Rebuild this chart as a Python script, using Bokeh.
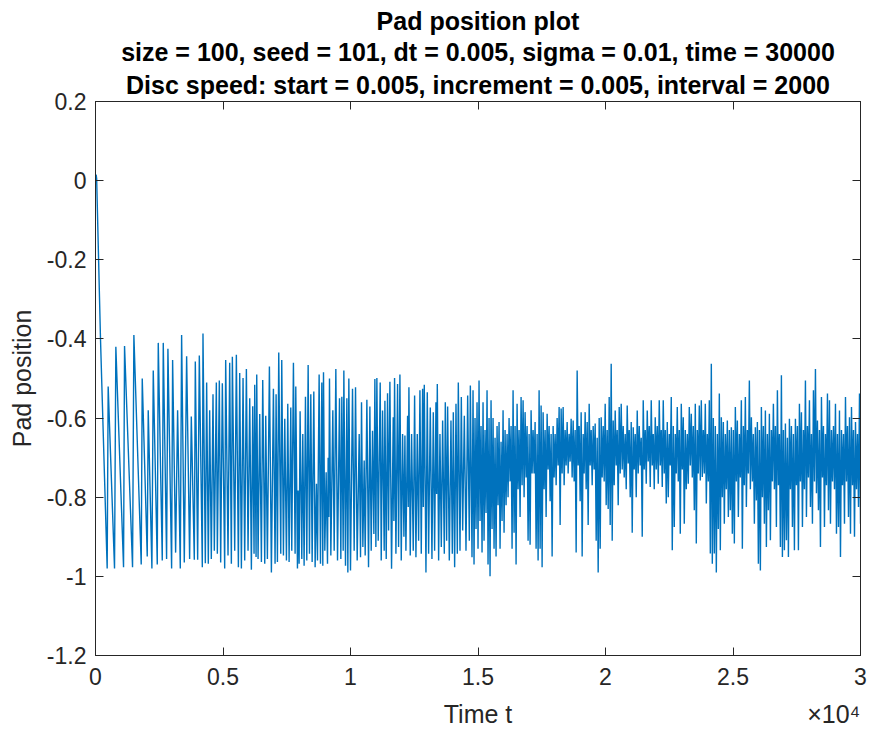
import numpy as np
from bokeh.plotting import figure
from bokeh.models import Range1d, LinearAxis, FixedTicker, Title
from bokeh.embed import file_html
from bokeh.resources import INLINE

title_lines = [
    "Pad position plot",
    "size = 100, seed = 101, dt = 0.005, sigma = 0.01, time = 30000",
    "Disc speed: start = 0.005, increment = 0.005, interval = 2000",
]
x_label = "Time t"
y_label = "Pad position"
x_tick_values = [0, 5000, 10000, 15000, 20000, 25000, 30000]
x_tick_labels = ["0", "0.5", "1", "1.5", "2", "2.5", "3"]
y_tick_values = [-1.2, -1.0, -0.8, -0.6, -0.4, -0.2, 0.0, 0.2]
y_tick_labels = ["-1.2", "-1", "-0.8", "-0.6", "-0.4", "-0.2", "0", "0.2"]
x_multiplier = "×10⁴"

# stick-slip part: time / position at each turning point
t_saw = [0, 25, 45, 196, 458, 497, 746, 798, 1100, 1139, 1453, 1505, 1793, 1833, 2029, 2068,
         2212, 2265, 2422, 2461, 2618, 2657, 2788, 2840, 2985, 3024, 3142, 3220, 3325, 3377,
         3482, 3574, 3691, 3757, 3875, 3914, 4006, 4071, 4189, 4215, 4307, 4359, 4424, 4477,
         4542, 4608, 4660, 4739, 4778, 4856, 4909, 4974,
         5066, 5105, 5197, 5262, 5328, 5367, 5459, 5524, 5603, 5655, 5721, 5786, 5851, 5917,
         5982, 6048, 6113, 6166, 6218, 6244, 6297, 6323, 6375, 6440, 6506, 6558, 6637, 6676,
         6741, 6820, 6898, 6977, 7042, 7082, 7134, 7186, 7265, 7304, 7370, 7422, 7488, 7540,
         7592, 7658, 7697, 7762, 7828, 7854, 7920, 7946, 7985, 8024, 8090, 8129, 8181, 8234,
         8286, 8339, 8391, 8443, 8496, 8561, 8613, 8666, 8705, 8770, 8823, 8875, 8914, 8941,
         8993, 9045, 9098, 9124, 9150, 9176, 9229, 9307, 9360, 9425, 9491, 9569, 9621, 9660,
         9713, 9739, 9804, 9857, 9896, 9935,
         10000, 10079, 10144, 10197, 10262, 10341, 10393, 10432, 10485, 10537, 10576, 10642,
         10707, 10760, 10812, 10864, 10917, 10956, 10995, 11034, 11087, 11165, 11205, 11257,
         11322, 11349, 11401, 11453, 11493, 11545, 11610, 11676, 11702, 11728, 11781, 11846,
         11885, 11938, 11990, 12043, 12095, 12134, 12173, 12239, 12265, 12291, 12343, 12396,
         12461, 12514, 12566, 12618, 12671, 12723, 12775, 12828, 12854, 12893, 12959, 13011,
         13063, 13129, 13194, 13247, 13299, 13351, 13377, 13404, 13456, 13508, 13561, 13613,
         13679, 13718, 13770, 13809, 13875, 13940, 13993, 14032, 14084, 14137, 14189, 14228,
         14294, 14346, 14399, 14464, 14529, 14595, 14660, 14700, 14765]
y_saw = [0.0, 0.015, 0.005, -0.40, -0.98, -0.52, -0.98, -0.42, -0.977, -0.418, -0.977, -0.39,
         -0.97, -0.50, -0.95, -0.58, -0.98, -0.48, -0.97, -0.41, -0.96, -0.41, -0.956, -0.425,
         -0.98, -0.453, -0.94, -0.58, -0.98, -0.39, -0.965, -0.444, -0.956, -0.596, -0.958,
         -0.457, -0.958, -0.442, -0.977, -0.386, -0.967, -0.51, -0.968, -0.58, -0.956, -0.54,
         -0.935, -0.51, -0.943, -0.505, -0.965, -0.512,
         -0.98, -0.453, -0.947, -0.46, -0.968, -0.445, -0.935, -0.44, -0.977, -0.486, -0.98,
         -0.499, -0.96, -0.476, -0.935, -0.55, -0.983, -0.57, -0.943, -0.516, -0.951, -0.49,
         -0.956, -0.59, -0.964, -0.504, -0.968, -0.594, -0.956, -0.47, -0.99, -0.526, -0.968,
         -0.54, -0.964, -0.434, -0.943, -0.453, -0.947, -0.602, -0.96, -0.564, -0.964, -0.573,
         -0.935, -0.46, -0.943, -0.52, -0.98, -0.783, -0.968, -0.583, -0.956, -0.64, -0.973,
         -0.546, -0.96, -0.466, -0.943, -0.54, -0.964, -0.533, -0.977, -0.766, -0.96, -0.49,
         -0.968, -0.51, -0.973, -0.484, -0.935, -0.737, -0.968, -0.70, -0.85, -0.5, -0.947,
         -0.58, -0.935, -0.476, -0.96, -0.55, -0.956, -0.546, -0.935, -0.48, -0.973, -0.55,
         -0.99, -0.5,
         -0.985, -0.526, -0.935, -0.522, -0.96, -0.64, -0.952, -0.56, -0.926, -0.707, -0.947,
         -0.554, -0.977, -0.571, -0.935, -0.632, -0.893, -0.501, -0.926, -0.499, -0.91, -0.51,
         -0.96, -0.581, -0.935, -0.556, -0.956, -0.537, -0.884, -0.508, -0.981, -0.598, -0.86,
         -0.499, -0.943, -0.514, -0.926, -0.49, -0.96, -0.64, -0.90, -0.644, -0.935, -0.594,
         -0.825, -0.522, -0.947, -0.64, -0.935, -0.543, -0.952, -0.64, -0.91, -0.53, -0.943,
         -0.526, -0.825, -0.516, -0.99, -0.535, -0.943, -0.573, -0.956, -0.585, -0.935, -0.56,
         -0.792, -0.514, -0.96, -0.64, -0.926, -0.606, -0.943, -0.56, -0.91, -0.571, -0.96,
         -0.606, -0.943, -0.585, -0.977, -0.564, -0.943, -0.51, -0.935, -0.547, -0.884, -0.594,
         -0.935, -0.543, -0.91, -0.518, -0.952]

# dense noisy part, read column by column (about one value per pixel)
t_dense_start = 14805
t_dense_end = 30000
y_dense = [
    -0.53, -0.97, -0.60, -0.88, -0.56, -0.93, -0.505, -0.86, -0.62, -0.94,
    -0.56, -0.91, -0.63, -0.84, -0.53, -0.97, -0.60, -1.0, -0.555, -0.88,
    -0.60, -0.93, -0.65, -0.95, -0.62, -0.82, -0.61, -0.93, -0.66, -0.86,
    -0.58, -0.89, -0.63, -0.82, -0.64, -0.80, -0.60, -0.76, -0.62, -0.93,
    -0.53, -0.89, -0.62, -0.97, -0.564, -0.78, -0.63, -0.85, -0.547, -0.77,
    -0.555, -0.80, -0.585, -0.75, -0.62, -0.91, -0.64, -0.92, -0.58, -0.74,
    -0.63, -0.74, -0.61, -0.93, -0.64, -0.96, -0.53, -0.93, -0.568, -0.977,
    -0.585, -0.78, -0.63, -0.85, -0.589, -0.73, -0.62, -0.81, -0.64, -0.95,
    -0.62, -0.75, -0.64, -0.77, -0.60, -0.72, -0.572, -0.87, -0.576, -0.74,
    -0.572, -0.77, -0.63, -0.72, -0.61, -0.74, -0.64, -0.71, -0.602, -0.75,
    -0.606, -0.76, -0.63, -0.94, -0.48, -0.72, -0.62, -0.81, -0.585, -0.95,
    -0.64, -0.74, -0.585, -0.78, -0.61, -0.87, -0.564, -0.72, -0.63, -0.77,
    -0.62, -0.73, -0.614, -0.91, -0.65, -0.99, -0.60, -0.93, -0.598, -0.75,
    -0.62, -0.76, -0.564, -0.82, -0.63, -0.83, -0.547, -0.87, -0.463, -0.91,
    -0.606, -0.77, -0.581, -0.72, -0.63, -0.82, -0.572, -0.74, -0.564, -0.73,
    -0.62, -0.75, -0.64, -0.78, -0.568, -0.715, -0.63, -0.80, -0.61, -0.89,
    -0.623, -0.73, -0.64, -0.80, -0.581, -0.74, -0.62, -0.72, -0.65, -0.90,
    -0.555, -0.73, -0.63, -0.766, -0.581, -0.71, -0.62, -0.774, -0.555, -0.72,
    -0.64, -0.78, -0.598, -0.73, -0.62, -0.766, -0.555, -0.72, -0.63, -0.774,
    -0.555, -0.74, -0.63, -0.816, -0.61, -0.80, -0.64, -0.72, -0.547, -0.934,
    -0.62, -0.875, -0.64, -0.74, -0.572, -0.76, -0.63, -0.892, -0.564, -0.73,
    -0.598, -0.867, -0.63, -0.78, -0.64, -0.766, -0.572, -0.72, -0.589, -0.75,
    -0.62, -0.833, -0.564, -0.917, -0.63, -0.74, -0.568, -0.758, -0.555, -0.749,
    -0.63, -0.74, -0.564, -0.816, -0.64, -0.76, -0.555, -0.942, -0.463, -0.968,
    -0.60, -0.942, -0.62, -0.99, -0.64, -0.88, -0.538, -0.934, -0.598, -0.80,
    -0.61, -0.867, -0.64, -0.78, -0.606, -0.85, -0.63, -0.833, -0.623, -0.892,
    -0.63, -0.917, -0.572, -0.76, -0.606, -0.85, -0.64, -0.75, -0.555, -0.93,
    -0.62, -0.77, -0.547, -0.825, -0.63, -0.74, -0.505, -0.78, -0.598, -0.76,
    -0.64, -0.867, -0.623, -0.808, -0.61, -0.968, -0.63, -0.985, -0.572, -0.80,
    -0.62, -0.867, -0.581, -0.926, -0.64, -0.833, -0.589, -0.909, -0.63, -0.76,
    -0.564, -0.78, -0.62, -0.875, -0.53, -0.77, -0.64, -0.926, -0.492, -0.951,
    -0.63, -0.934, -0.614, -0.909, -0.65, -0.951, -0.602, -0.78, -0.62, -0.875,
    -0.64, -0.934, -0.602, -0.77, -0.62, -0.934, -0.564, -0.76, -0.585, -0.875,
    -0.63, -0.78, -0.505, -0.85, -0.62, -0.75, -0.555, -0.825, -0.64, -0.867,
    -0.53, -0.76, -0.476, -0.79, -0.606, -0.833, -0.63, -0.926, -0.547, -0.75,
    -0.62, -0.875, -0.64, -0.77, -0.538, -0.833, -0.555, -0.867, -0.63, -0.76,
    -0.62, -0.78, -0.564, -0.892, -0.64, -0.875, -0.581, -0.951, -0.63, -0.77,
    -0.64, -0.867, -0.547, -0.76, -0.62, -0.85, -0.598, -0.892, -0.572, -0.77,
    -0.63, -0.90, -0.61, -0.78, -0.64, -0.825, -0.538, -0.867,
]

t_dense = np.linspace(t_dense_start, t_dense_end, len(y_dense))
t_all = np.concatenate([np.array(t_saw, dtype=float), t_dense])
y_all = np.concatenate([np.array(y_saw, dtype=float), np.array(y_dense, dtype=float)])

AX = "#262626"
FONT = "Liberation Sans"

p = figure(width=869, height=734, output_backend="svg", toolbar_location=None,
           x_range=Range1d(0, 30000), y_range=Range1d(-1.2, 0.2),
           x_axis_type=None, y_axis_type=None,
           min_border_left=95, min_border_right=9, min_border_top=101, min_border_bottom=79)
p.background_fill_color = "white"
p.border_fill_color = "white"
p.outline_line_color = AX
p.outline_line_width = 1

p.line(t_all, y_all, line_width=1.4, line_color="#0072BD")


def style_axis(ax, show_labels):
    ax.axis_line_color = AX
    ax.axis_line_width = 1
    ax.major_tick_line_color = AX
    ax.major_tick_in = 8
    ax.major_tick_out = 0
    ax.minor_tick_line_color = None
    ax.major_label_text_font = FONT
    ax.major_label_text_color = AX
    if show_labels:
        ax.major_label_text_font_size = "23px"
    else:
        ax.major_label_text_font_size = "0px"
        ax.major_label_text_alpha = 0
        ax.major_label_standoff = 0


xt = FixedTicker(ticks=x_tick_values)
yt = FixedTicker(ticks=y_tick_values)
x_over = {v: l for v, l in zip(x_tick_values, x_tick_labels)}
y_over = {v: l for v, l in zip(y_tick_values, y_tick_labels)}

bottom = LinearAxis(ticker=xt, major_label_overrides=x_over)
style_axis(bottom, True)
bottom.major_label_standoff = 12
p.add_layout(bottom, "below")

# second row under the tick labels: the axis title and the MATLAB-style exponent
label_pos = [15000, 28950]
label_text = [x_label, x_multiplier]
caption = LinearAxis(ticker=FixedTicker(ticks=label_pos),
                     major_label_overrides={v: s for v, s in zip(label_pos, label_text)})
caption.axis_line_color = None
caption.major_tick_line_color = None
caption.minor_tick_line_color = None
caption.major_tick_in = 0
caption.major_tick_out = 0
caption.major_label_standoff = 12
caption.major_label_text_font = FONT
caption.major_label_text_font_size = "25px"
caption.major_label_text_color = AX
p.add_layout(caption, "below")

left = LinearAxis(ticker=yt, major_label_overrides=y_over, axis_label=y_label)
style_axis(left, True)
left.major_label_standoff = 9
left.axis_label_text_font = FONT
left.axis_label_text_font_size = "25px"
left.axis_label_text_font_style = "normal"
left.axis_label_text_color = AX
left.axis_label_standoff = 8
p.add_layout(left, "left")

right = LinearAxis(ticker=FixedTicker(ticks=y_tick_values))
style_axis(right, False)
p.add_layout(right, "right")

top = LinearAxis(ticker=FixedTicker(ticks=x_tick_values))
style_axis(top, False)
p.add_layout(top, "above")

for i, line in enumerate(reversed(title_lines)):
    t = Title(text=line, align="center", text_font=FONT, text_font_size="25px",
              text_font_style="bold", text_color="black", standoff=5 if i == 0 else 1)
    p.add_layout(t, "above")

open("out.html", "w").write(file_html(p, INLINE))
